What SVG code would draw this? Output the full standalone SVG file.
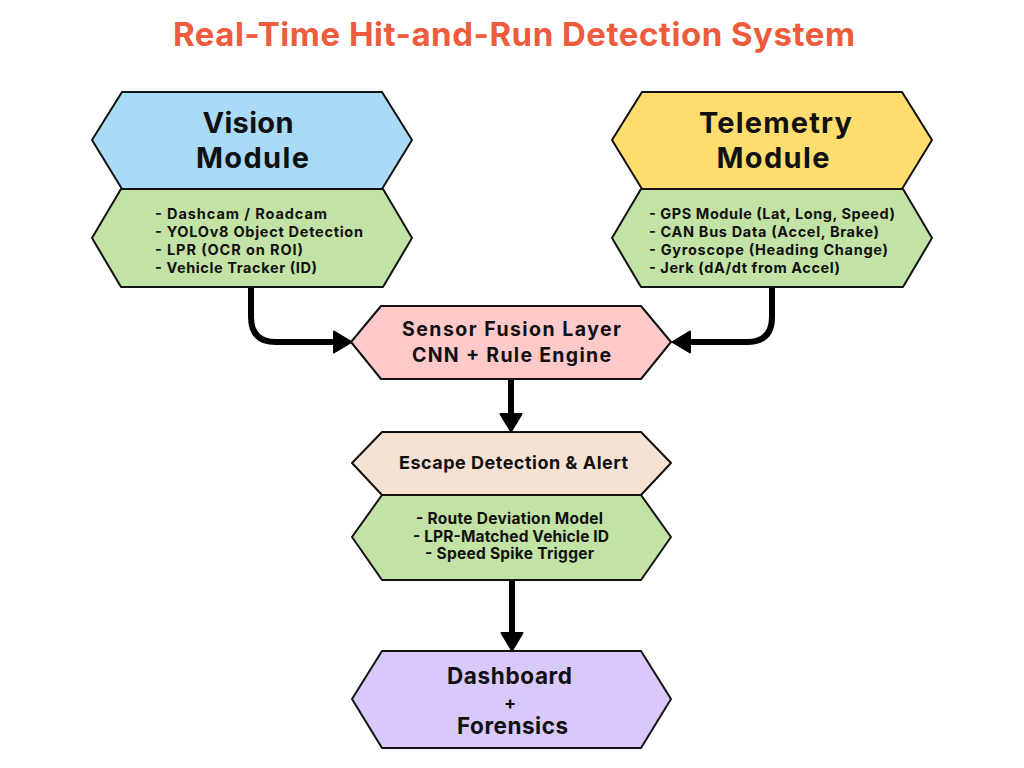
<svg xmlns="http://www.w3.org/2000/svg" width="1024" height="768" viewBox="0 0 1024 768">
<defs>
<style>
.hex{stroke:#111;stroke-width:2;stroke-linejoin:round}
.conn{fill:none;stroke:#000;stroke-width:6}
.t{font-family:Inter,"Liberation Sans",sans-serif;font-weight:700;fill:#111}
.big{font-size:29px;text-anchor:middle}
.list{font-size:14.5px}
.mid{text-anchor:middle}
</style>
<marker id="ah" viewBox="0 0 20 24" refX="1" refY="12" markerWidth="20" markerHeight="24" markerUnits="userSpaceOnUse" orient="auto">
<path d="M1,1.5 L18.5,12 L1,22.5 Z" fill="#000" stroke="#000" stroke-width="2" stroke-linejoin="round"/>
</marker>
</defs>
<rect width="1024" height="768" fill="#fff"/>
<text x="514" y="46" class="t mid" style="font-size:33px;fill:#EE5B3D" textLength="682">Real-Time Hit-and-Run Detection System</text>

<g id="connectors">
<path class="conn" d="M251,287 V317 Q251,342 276,342 H334" marker-end="url(#ah)"/>
<path class="conn" d="M772,287 V317 Q772,342 747,342 H690" marker-end="url(#ah)"/>
<path class="conn" d="M511,379 V414" marker-end="url(#ah)"/>
<path class="conn" d="M512,580 V633" marker-end="url(#ah)"/>
</g>

<g id="vision">
<polygon class="hex" fill="#A9DAF6" points="92,140 122,92 382,92 412,140 382,189 122,189"/>
<text class="t big" x="248" y="133" textLength="91">Vision</text>
<text class="t big" x="252.5" y="168" textLength="113">Module</text>
</g>
<g id="vision-details">
<polygon class="hex" fill="#C3E2A5" points="92,238 121,189 383,189 412,238 383,287 121,287"/>
<text class="t list" x="155" y="219" textLength="172">- Dashcam / Roadcam</text>
<text class="t list" x="155" y="237" textLength="208">- YOLOv8 Object Detection</text>
<text class="t list" x="155" y="255" textLength="148">- LPR (OCR on ROI)</text>
<text class="t list" x="155" y="273" textLength="162">- Vehicle Tracker (ID)</text>
</g>

<g id="telemetry">
<polygon class="hex" fill="#FFDD6F" points="612,140 642,92 902,92 932,140 902,189 642,189"/>
<text class="t big" x="775.5" y="133" textLength="153">Telemetry</text>
<text class="t big" x="773" y="168" textLength="113">Module</text>
</g>
<g id="telemetry-details">
<polygon class="hex" fill="#C3E2A5" points="612,238 641,189 903,189 932,238 903,287 641,287"/>
<text class="t list" x="649" y="219" textLength="246">- GPS Module (Lat, Long, Speed)</text>
<text class="t list" x="649" y="237" textLength="230">- CAN Bus Data (Accel, Brake)</text>
<text class="t list" x="649" y="255" textLength="239">- Gyroscope (Heading Change)</text>
<text class="t list" x="649" y="273" textLength="191">- Jerk (dA/dt from Accel)</text>
</g>

<g id="fusion">
<polygon class="hex" fill="#FFC9C9" points="351,342 381,306 641,306 671,342 641,379 381,379"/>
<text class="t mid" x="511.5" y="336" style="font-size:19.5px" textLength="219">Sensor Fusion Layer</text>
<text class="t mid" x="511.5" y="362" style="font-size:19.5px" textLength="199">CNN + Rule Engine</text>
</g>

<g id="escape">
<polygon class="hex" fill="#F5E2D3" points="352,463 382,432 641,432 671,463 641,495 382,495"/>
<text class="t mid" x="513.5" y="469" style="font-size:18px" textLength="229">Escape Detection &amp; Alert</text>
</g>
<g id="escape-details">
<polygon class="hex" fill="#C3E2A5" points="352,537 382,495 641,495 671,537 641,580 382,580"/>
<text class="t mid" x="509.5" y="524" style="font-size:15.5px" textLength="187">- Route Deviation Model</text>
<text class="t mid" x="511" y="542" style="font-size:15.5px" textLength="196">- LPR-Matched Vehicle ID</text>
<text class="t mid" x="509.5" y="559" style="font-size:15.5px" textLength="169">- Speed Spike Trigger</text>
</g>

<g id="dashboard">
<polygon class="hex" fill="#D9C9FA" points="352,699 382,651 641,651 671,699 641,748 382,748"/>
<text class="t mid" x="509.5" y="684" style="font-size:22.5px" textLength="125">Dashboard</text>
<text class="t mid" x="510" y="709" style="font-size:18px">+</text>
<text class="t mid" x="512.5" y="734" style="font-size:22.5px" textLength="111">Forensics</text>
</g>
</svg>
